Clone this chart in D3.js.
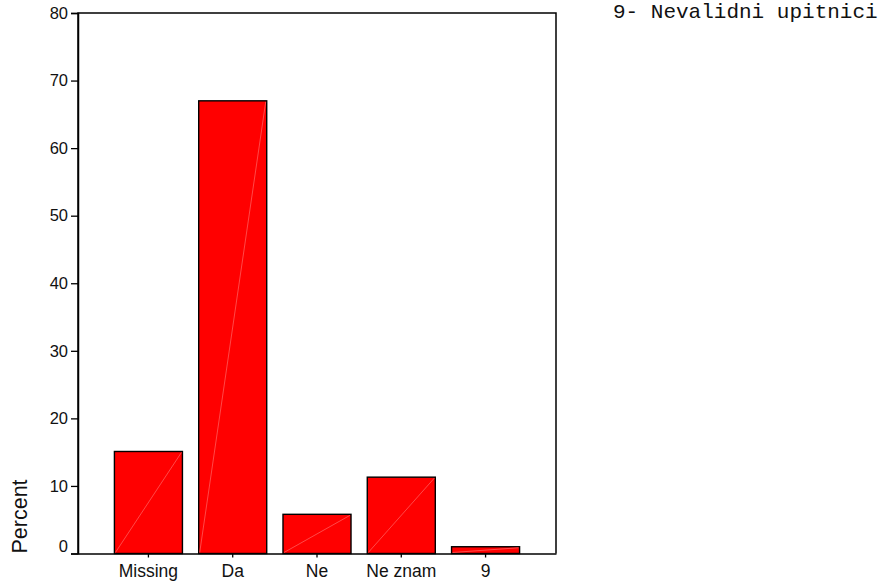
<!DOCTYPE html>
<html>
<head>
<meta charset="utf-8">
<script src="https://cdn.jsdelivr.net/npm/d3@7"></script>
<style>
  body { margin: 0; background: #fff; }
  .box text { font-family: "Liberation Sans", Arial, sans-serif; fill: #111; }
</style>
</head>
<body>
<div class="box"></div>
<script>
const categories = ["Missing", "Da", "Ne", "Ne znam", "9"]
const percents = [15.1, 67.0, 5.8, 11.3, 1.0]
const yTicks = [0, 10, 20, 30, 40, 50, 60, 70, 80]
const note = "9- Nevalidni upitnici"

const boxWidth = 883
const boxHeight = 584
const plotLeft = 78, plotRight = 556, plotTop = 13, plotBottom = 553.5

const svgBox = d3.select('.box')
                 .append('svg')
                 .attr('width', boxWidth)
                 .attr('height', boxHeight)

const x = d3.scaleBand()
            .domain(categories)
            .range([plotLeft, plotRight])
            .paddingInner(0.193)
            .paddingOuter(0.432)

const y = d3.scaleLinear()
            .domain([0, 80])
            .range([plotBottom, plotTop])

// bars
svgBox.selectAll('rect.bar')
      .data(percents).enter()
      .append('rect')
      .attr('class', 'bar')
      .attr('x', (d, i) => x(categories[i]))
      .attr('y', d => y(d))
      .attr('width', x.bandwidth())
      .attr('height', d => y(0) - y(d))
      .attr('fill', '#ff0000')
      .attr('stroke', '#000')
      .attr('stroke-width', 1.4)

// faint diagonal in each bar
svgBox.selectAll('line.diag')
      .data(percents).enter()
      .append('line')
      .attr('class', 'diag')
      .attr('x1', (d, i) => x(categories[i]) + 1)
      .attr('y1', y(0) - 1)
      .attr('x2', (d, i) => x(categories[i]) + x.bandwidth() - 1)
      .attr('y2', d => y(d) + 1)
      .attr('stroke', '#ff5a5a')
      .attr('stroke-width', 0.8)

// frame
svgBox.append('path')
      .attr('d', `M${plotLeft},${plotBottom}V${plotTop}H${plotRight}V${plotBottom}`)
      .attr('fill', 'none')
      .attr('stroke', '#000')
      .attr('stroke-width', 1.5)

// y axis
const yAxis = svgBox.append('g')
      .attr('transform', `translate(${plotLeft},0)`)
      .call(d3.axisLeft(y).tickValues(yTicks).tickSize(7).tickPadding(3).tickFormat(d3.format('d')))
yAxis.select('.domain').attr('stroke-width', 1.5)
yAxis.selectAll('.tick line').attr('stroke-width', 1.3)
yAxis.selectAll('text').style('font-size', '16.5px').attr('fill', '#111')
// the 0 label sits a bit above its tick
yAxis.selectAll('.tick').filter(d => d === 0).select('text').attr('y', -7)

// x axis
const xAxis = svgBox.append('g')
      .attr('transform', `translate(0,${plotBottom})`)
      .call(d3.axisBottom(x).tickSize(4).tickPadding(7.5).tickSizeOuter(0))
xAxis.select('.domain').attr('stroke-width', 1.5)
xAxis.selectAll('.tick line').attr('stroke-width', 1.3)
xAxis.selectAll('text').style('font-size', '17.5px').attr('fill', '#111')

// y title
svgBox.append('text')
      .attr('transform', `translate(27,${plotBottom}) rotate(-90)`)
      .attr('text-anchor', 'start')
      .style('font-size', '21.5px')
      .text('Percent')

// note
svgBox.append('text')
      .attr('x', 613)
      .attr('y', 18)
      .style('font-family', '"Liberation Mono", "Courier New", monospace')
      .style('font-size', '21px')
      .attr('fill', '#555')
      .text(note)
</script>
</body>
</html>
